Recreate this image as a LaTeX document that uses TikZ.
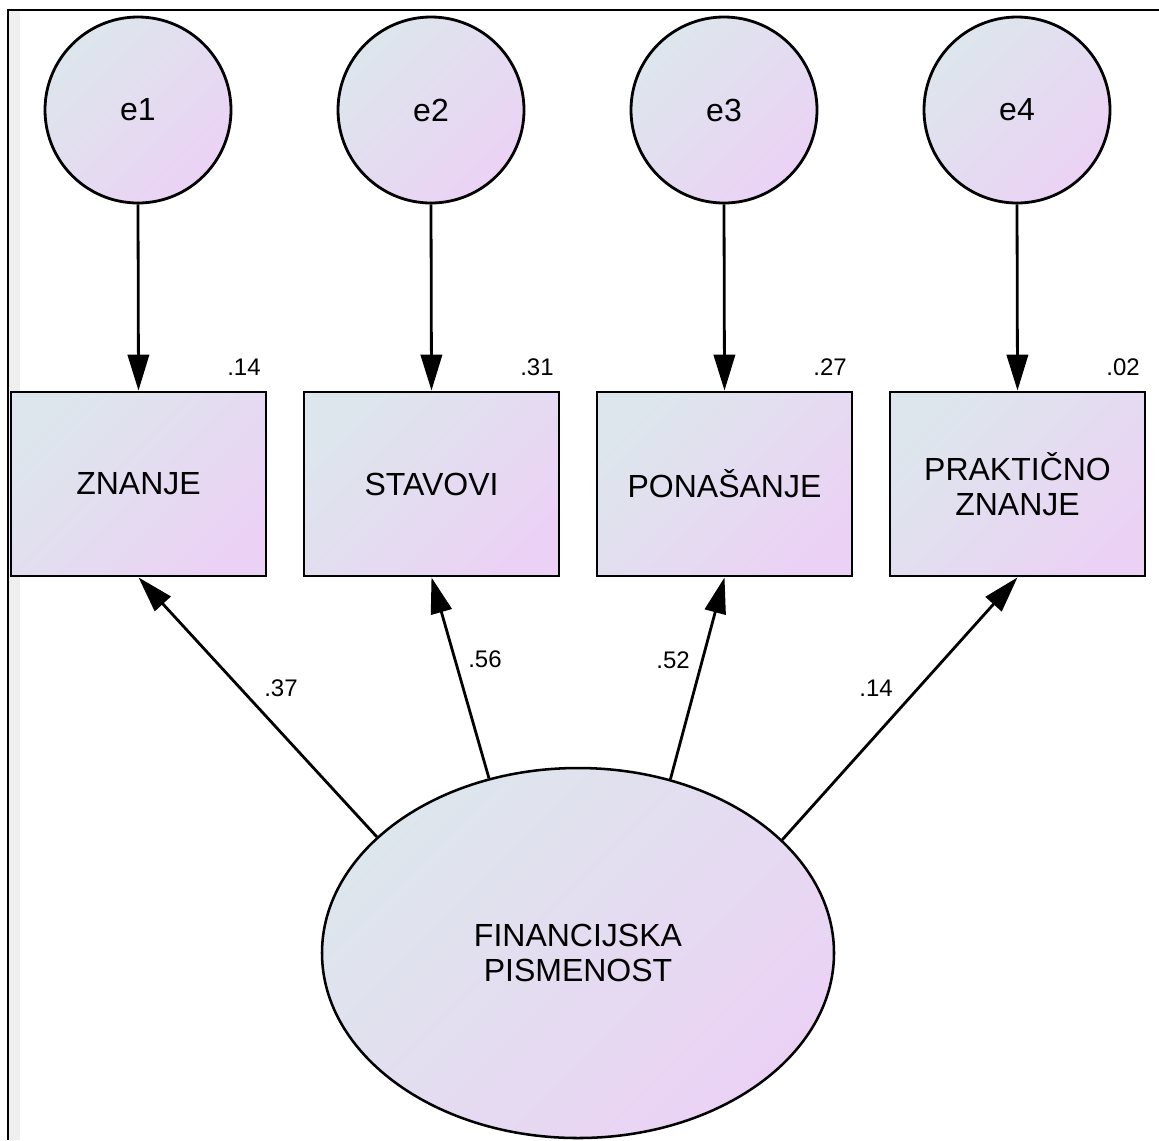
\documentclass[tikz,border=0pt]{standalone}
\usepackage{fontspec}
\setmainfont{Liberation Sans}
\usetikzlibrary{arrows.meta,shapes.geometric}
\definecolor{gA}{RGB}{221,230,236}
\definecolor{gB}{RGB}{235,210,245}
\definecolor{stripgray}{RGB}{239,239,239}
\begin{document}
\begin{tikzpicture}[x=0.75pt,y=-0.75pt,
  every node/.style={font=\fontsize{24}{26.5}\selectfont, text=black},
  grad/.style={top color=gA, bottom color=gB, shading angle=45, draw=black, line width=2.1pt},
  errc/.style={grad, circle, minimum size=139.5pt, inner sep=0pt},
  obs/.style={grad, rectangle, minimum width=191.25pt, minimum height=138pt, inner sep=0pt, align=center},
  lat/.style={grad, ellipse, minimum width=384pt, minimum height=277.5pt, inner sep=0pt, align=center, line width=1.9pt},
  regpath/.style={line width=2.1pt, -{Triangle[length=27pt,width=16pt]}},
  coef/.style={font=\fontsize{18}{22}\selectfont, inner sep=0pt}]
% canvas and frame
\fill[white] (0,0) rectangle (1159,1140);
\useasboundingbox (0,0) rectangle (1159,1140);
\fill[stripgray] (9,11) rectangle (20,1140);
\draw[line width=1.5pt] (7,10) -- (1159,10);
\draw[line width=1.5pt] (8,10) -- (8,1140);
% error terms
\node[errc] (e1) at (138,110) {e1};
\node[errc] (e2) at (431,110) {e2};
\node[errc] (e3) at (724,110) {e3};
\node[errc] (e4) at (1017,110) {e4};
% observed variables
\node[obs] (x1) at (138.5,484) {ZNANJE};
\node[obs] (x2) at (431.5,484) {STAVOVI};
\node[obs] (x3) at (724.5,484) {PONAŠANJE};
\node[obs] (x4) at (1017.5,484) {PRAKTIČNO\\ZNANJE};
% latent
\node[lat] (F) at (578,953) {FINANCIJSKA\\PISMENOST};
% error paths
\draw[regpath] (e1.south) -- (x1.north);
\draw[regpath] (e2.south) -- (x2.north);
\draw[regpath] (e3.south) -- (x3.north);
\draw[regpath] (e4.south) -- (x4.north);
% loadings
\draw[regpath] (F.150.6) -- (x1.south);
\draw[regpath] (F.117.7) -- (x2.south);
\draw[regpath] (F.62.3) -- (x3.south);
\draw[regpath] (F.29.4) -- (x4.south);
% squared multiple correlations
\node[coef] (r1) at (244,367) {.14};
\node[coef] (r2) at (537,367) {.31};
\node[coef] (r3) at (830,367) {.27};
\node[coef] (r4) at (1123,367) {.02};
% loading labels
\node[coef] (l1) at (281,688) {.37};
\node[coef] (l2) at (485,659) {.56};
\node[coef] (l3) at (673,660) {.52};
\node[coef] (l4) at (876,688) {.14};
\end{tikzpicture}
\end{document}
